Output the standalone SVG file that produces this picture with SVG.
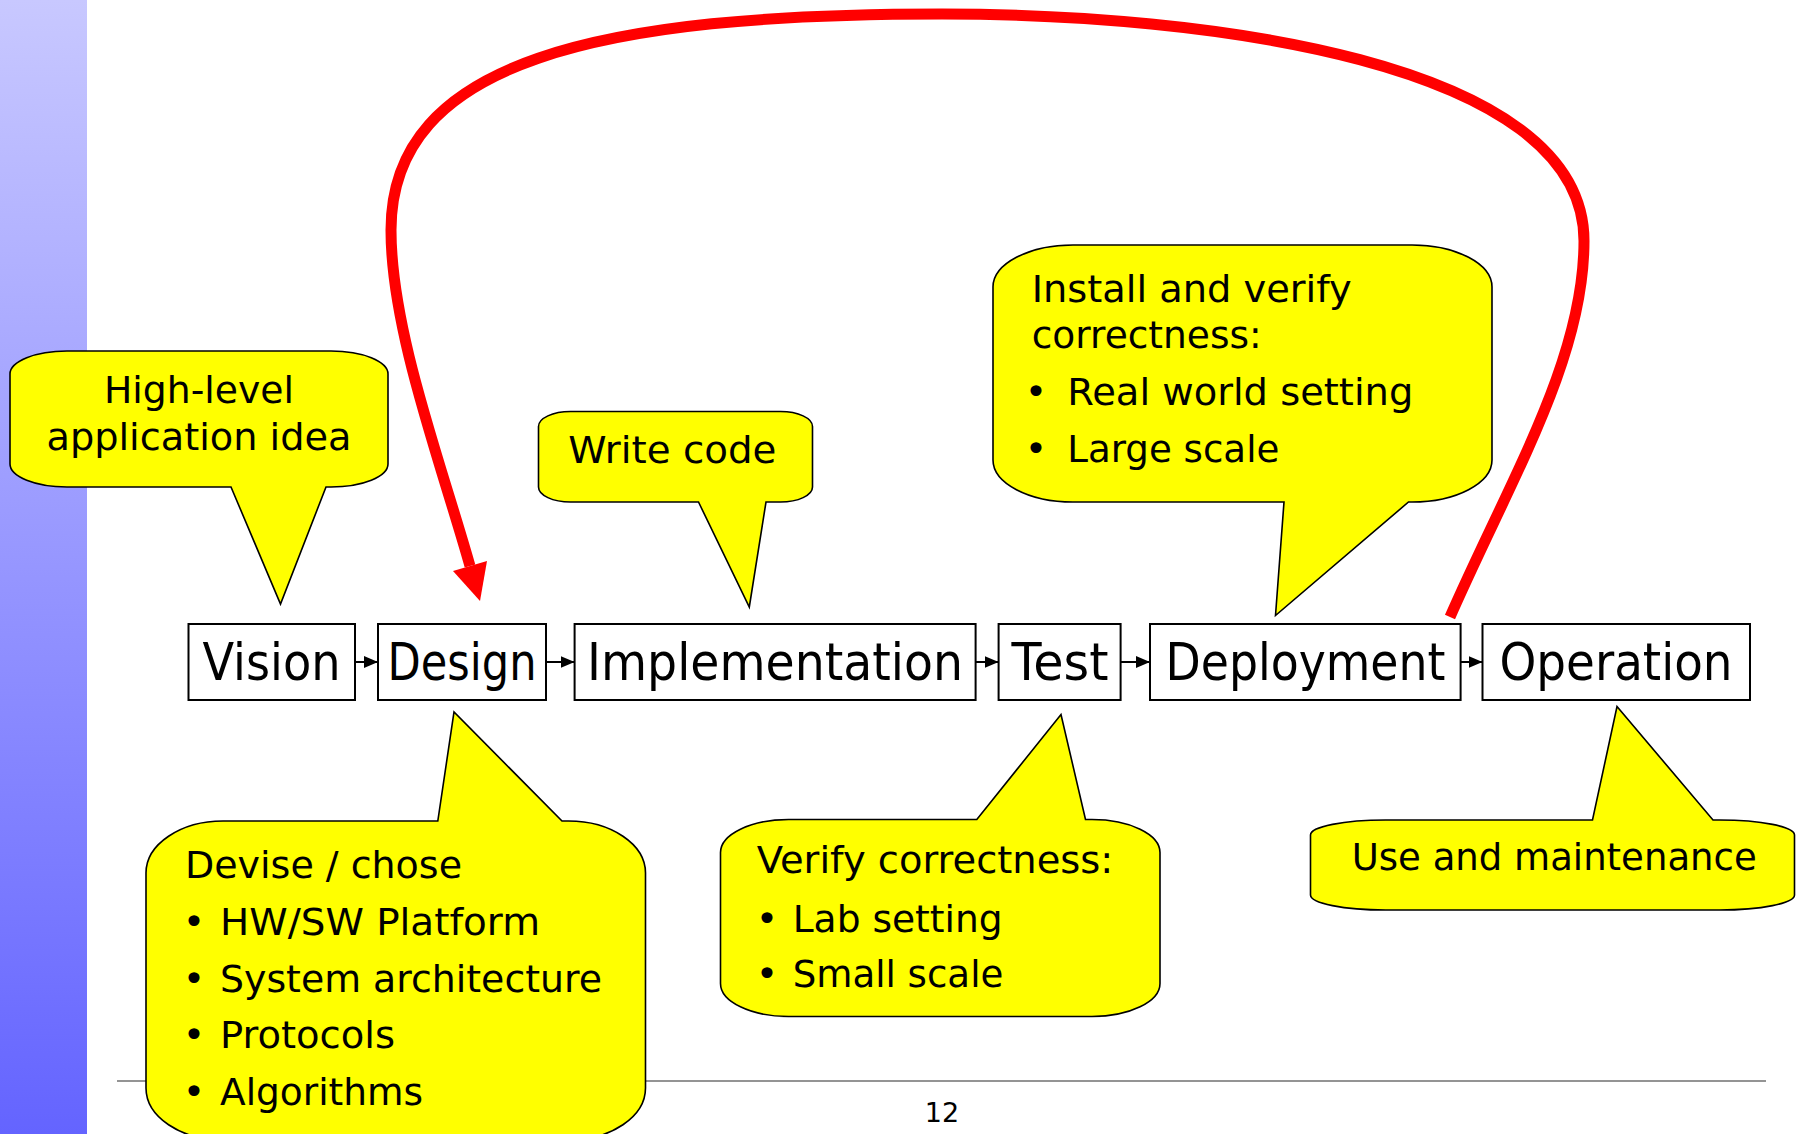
<svg xmlns="http://www.w3.org/2000/svg" width="1802" height="1134" viewBox="0 0 1802 1134">
<style>
.box{fill:#fff;stroke:#000;stroke-width:2}
.bt{font-family:"DejaVu Sans","Liberation Sans",sans-serif;font-size:52px;fill:#000}
.co{fill:#ffff00;stroke:#000;stroke-width:1.6;stroke-linejoin:miter}
.ct{font-family:"DejaVu Sans","Liberation Sans",sans-serif;font-size:38px;fill:#000}
.conn{stroke:#000;stroke-width:2;fill:none}
</style>
<defs>
<linearGradient id="bar" x1="0" y1="0" x2="0" y2="1">
<stop offset="0" stop-color="#c8c8ff"/>
<stop offset="1" stop-color="#6464ff"/>
</linearGradient>
<marker id="ah" markerUnits="userSpaceOnUse" markerWidth="14" markerHeight="12" refX="14" refY="6" orient="auto">
<path d="M0,0 L14,6 L0,12 Z" fill="#000"/>
</marker>
</defs>
<rect x="0" y="0" width="1802" height="1134" fill="#fff"/>
<rect x="0" y="0" width="87" height="1134" fill="url(#bar)"/>
<g id="footer">
<line x1="117" y1="1081" x2="1766" y2="1081" stroke="#707070" stroke-width="1.5"/>
<text x="942" y="1122" text-anchor="middle" font-family="DejaVu Sans, sans-serif" font-size="27" fill="#000">12</text>
</g>
<g id="vision"><rect class="box" x="188.5" y="624" width="166.5" height="76"/><text class="bt" x="271.5" y="680" text-anchor="middle" textLength="138" lengthAdjust="spacingAndGlyphs">Vision</text></g>
<g id="design"><rect class="box" x="378" y="624" width="168" height="76"/><text class="bt" x="462" y="680" text-anchor="middle" textLength="149" lengthAdjust="spacingAndGlyphs">Design</text></g>
<g id="implementation"><rect class="box" x="574.6" y="624" width="401" height="76"/><text class="bt" x="775" y="680" text-anchor="middle" textLength="376" lengthAdjust="spacingAndGlyphs">Implementation</text></g>
<g id="test"><rect class="box" x="998.6" y="624" width="122" height="76"/><text class="bt" x="1060" y="680" text-anchor="middle" textLength="97" lengthAdjust="spacingAndGlyphs">Test</text></g>
<g id="deployment"><rect class="box" x="1150" y="624" width="310.6" height="76"/><text class="bt" x="1305.5" y="680" text-anchor="middle" textLength="280" lengthAdjust="spacingAndGlyphs">Deployment</text></g>
<g id="operation"><rect class="box" x="1482.5" y="624" width="267.5" height="76"/><text class="bt" x="1616" y="680" text-anchor="middle" textLength="233" lengthAdjust="spacingAndGlyphs">Operation</text></g>
<g id="connectors">
<line class="conn" x1="355" y1="662" x2="378" y2="662" marker-end="url(#ah)"/>
<line class="conn" x1="546" y1="662" x2="574.6" y2="662" marker-end="url(#ah)"/>
<line class="conn" x1="975.6" y1="662" x2="998.6" y2="662" marker-end="url(#ah)"/>
<line class="conn" x1="1120.6" y1="662" x2="1150" y2="662" marker-end="url(#ah)"/>
<line class="conn" x1="1460.6" y1="662" x2="1482.5" y2="662" marker-end="url(#ah)"/>
</g>
<g id="callout-idea">
<path class="co" d="M67,351 H331 A57,23 0 0 1 388,374 V464 A57,23 0 0 1 331,487 H326 L280.5,604 L231,487 H67 A57,23 0 0 1 10,464 V374 A57,23 0 0 1 67,351 Z"/>
<text class="ct" x="199" y="403" text-anchor="middle" textLength="190" lengthAdjust="spacingAndGlyphs">High-level</text>
<text class="ct" x="199" y="450" text-anchor="middle" textLength="305" lengthAdjust="spacingAndGlyphs">application idea</text>
</g>
<g id="callout-code">
<path class="co" d="M570.5,411.5 H780.5 A32,15 0 0 1 812.5,426.5 V487 A32,15 0 0 1 780.5,502 H766 L749.3,607 L698.5,502 H570.5 A32,15 0 0 1 538.5,487 V426.5 A32,15 0 0 1 570.5,411.5 Z"/>
<text class="ct" x="568.3" y="462.7" textLength="208" lengthAdjust="spacingAndGlyphs">Write code</text>
</g>
<g id="callout-install">
<path class="co" d="M1073,245 H1412 A80,42 0 0 1 1492,287 V460 A80,42 0 0 1 1412,502 H1408.5 L1275.5,615.5 L1284,502 H1073 A80,42 0 0 1 993,460 V287 A80,42 0 0 1 1073,245 Z"/>
<text class="ct" x="1031.7" y="301.7" textLength="320" lengthAdjust="spacingAndGlyphs">Install and verify</text>
<text class="ct" x="1031.7" y="348.3" textLength="230" lengthAdjust="spacingAndGlyphs">correctness:</text>
<text class="ct" x="1036" y="405" text-anchor="middle">•</text>
<text class="ct" x="1067.3" y="405" textLength="346" lengthAdjust="spacingAndGlyphs">Real world setting</text>
<text class="ct" x="1036" y="461.7" text-anchor="middle">•</text>
<text class="ct" x="1067.3" y="461.7" textLength="212" lengthAdjust="spacingAndGlyphs">Large scale</text>
</g>
<g id="callout-devise">
<path class="co" d="M223,821 H437.8 L454,712 L562,821 H568.5 A77,52 0 0 1 645.5,873 V1088 A77,52 0 0 1 568.5,1140 H223 A77,52 0 0 1 146,1088 V873 A77,52 0 0 1 223,821 Z"/>
<text class="ct" x="185" y="878.3" textLength="277" lengthAdjust="spacingAndGlyphs">Devise / chose</text>
<text class="ct" x="194" y="935" text-anchor="middle">•</text>
<text class="ct" x="220" y="935" textLength="320" lengthAdjust="spacingAndGlyphs">HW/SW Platform</text>
<text class="ct" x="194" y="991.7" text-anchor="middle">•</text>
<text class="ct" x="220" y="991.7" textLength="382" lengthAdjust="spacingAndGlyphs">System architecture</text>
<text class="ct" x="194" y="1048.3" text-anchor="middle">•</text>
<text class="ct" x="220" y="1048.3" textLength="175" lengthAdjust="spacingAndGlyphs">Protocols</text>
<text class="ct" x="194" y="1105" text-anchor="middle">•</text>
<text class="ct" x="220" y="1105" textLength="203" lengthAdjust="spacingAndGlyphs">Algorithms</text>
</g>
<g id="callout-verify">
<path class="co" d="M788.5,819.5 H976.8 L1061,714.5 L1085.5,819.5 H1092 A68,33 0 0 1 1160,852.5 V983.5 A68,33 0 0 1 1092,1016.5 H788.5 A68,33 0 0 1 720.5,983.5 V852.5 A68,33 0 0 1 788.5,819.5 Z"/>
<text class="ct" x="756.7" y="873.3" textLength="356.6" lengthAdjust="spacingAndGlyphs">Verify correctness:</text>
<text class="ct" x="767" y="931.7" text-anchor="middle">•</text>
<text class="ct" x="792.7" y="931.7" textLength="210" lengthAdjust="spacingAndGlyphs">Lab setting</text>
<text class="ct" x="767" y="986.7" text-anchor="middle">•</text>
<text class="ct" x="792.7" y="986.7" textLength="210.6" lengthAdjust="spacingAndGlyphs">Small scale</text>
</g>
<g id="callout-use">
<path class="co" d="M1385.5,820 H1592.5 L1617,706.5 L1713,820 H1719.5 A75,15 0 0 1 1794.5,835 V895 A75,15 0 0 1 1719.5,910 H1385.5 A75,15 0 0 1 1310.5,895 V835 A75,15 0 0 1 1385.5,820 Z"/>
<text class="ct" x="1351.7" y="870" textLength="405" lengthAdjust="spacingAndGlyphs">Use and maintenance</text>
</g>
<g id="feedback-arrow">
<path d="M1450,617 C1510,480 1584,360 1584,241 C1584,60 1200,14 942,14 C600,14 391,60 391,230 C391,330 440,460 470,566" fill="none" stroke="#ff0000" stroke-width="11" stroke-linecap="butt"/>
<polygon points="480,601 487,561 453,571" fill="#ff0000"/>
</g>
</svg>
